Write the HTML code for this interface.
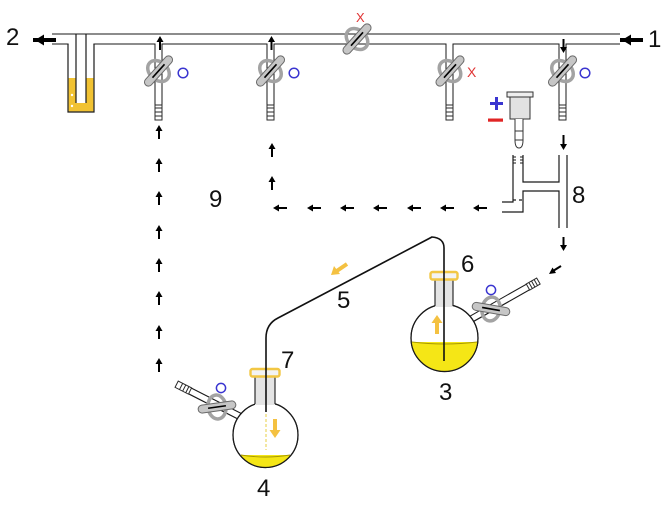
<!DOCTYPE html>
<html><head><meta charset="utf-8"><style>
html,body{margin:0;padding:0;background:#fff;}
svg{display:block;}
text{font-family:"Liberation Sans",Arial,sans-serif;fill:#111;}
</style></head><body>
<svg width="669" height="512" viewBox="0 0 669 512" xmlns="http://www.w3.org/2000/svg">
<rect width="669" height="512" fill="#fff"/>

<!-- Manifold tubes -->
<g stroke="#1a1a1a" stroke-width="11" fill="none">
  <path d="M52,39 H620"/>
</g>
<g stroke="#1a1a1a" stroke-width="8" fill="none">
  <path d="M158.5,39 V105"/><path d="M270.5,39 V105"/><path d="M449.5,39 V105"/><path d="M562.5,39 V105"/>
</g>
<g stroke="#fff" stroke-width="9" fill="none">
  <path d="M52,39 H620"/>
</g>
<g stroke="#fff" stroke-width="6" fill="none">
  <path d="M158.5,39 V106"/><path d="M270.5,39 V106"/><path d="M449.5,39 V106"/><path d="M562.5,39 V106"/>
</g>

<!-- Bubbler -->
<rect x="68.6" y="42" width="24.8" height="3.5" fill="#fff"/>
<rect x="68.6" y="78" width="24.8" height="33.4" fill="#f1c232"/>
<path d="M68,44 V112 H94 V44" stroke="#1a1a1a" stroke-width="1.2" fill="none"/>
<rect x="76" y="34.6" width="10" height="68.4" fill="#fff"/>
<path d="M76,34 V103 M86,34 V103" stroke="#1a1a1a" stroke-width="1.2" fill="none"/>
<circle cx="72" cy="95" r="1.2" fill="#fff"/><circle cx="72" cy="106" r="1.2" fill="#fff"/>

<!-- Barbs on manifold -->
<g stroke="#2a2a2a" stroke-width="1" fill="#fff">
  <g transform="translate(158.5,105)"><rect x="-3.5" y="0" width="7" height="15"/><path d="M-3.5,3 H3.5 M-3.5,7 H3.5 M-3.5,11 H3.5"/></g>
  <g transform="translate(270.5,105)"><rect x="-3.5" y="0" width="7" height="15"/><path d="M-3.5,3 H3.5 M-3.5,7 H3.5 M-3.5,11 H3.5"/></g>
  <g transform="translate(449.5,105)"><rect x="-3.5" y="0" width="7" height="15"/><path d="M-3.5,3 H3.5 M-3.5,7 H3.5 M-3.5,11 H3.5"/></g>
  <g transform="translate(562.5,105)"><rect x="-3.5" y="0" width="7" height="15"/><path d="M-3.5,3 H3.5 M-3.5,7 H3.5 M-3.5,11 H3.5"/></g>
</g>

<!-- Stopcocks on manifold -->
<g transform="translate(158.5,71) rotate(-48)">
  <ellipse rx="9" ry="12" fill="none" stroke="#a3a3a3" stroke-width="3.5"/>
  <rect x="-19" y="-4" width="38" height="8" rx="4" fill="#c6c6c6" stroke="#6a6a6a" stroke-width="1"/>
  <line x1="-9" y1="0" x2="9" y2="0" stroke="#000" stroke-width="1.6"/>
</g>
<g transform="translate(270.5,71) rotate(-48)">
  <ellipse rx="9" ry="12" fill="none" stroke="#a3a3a3" stroke-width="3.5"/>
  <rect x="-19" y="-4" width="38" height="8" rx="4" fill="#c6c6c6" stroke="#6a6a6a" stroke-width="1"/>
  <line x1="-9" y1="0" x2="9" y2="0" stroke="#000" stroke-width="1.6"/>
</g>
<g transform="translate(450,71) rotate(-48)">
  <ellipse rx="9" ry="12" fill="none" stroke="#a3a3a3" stroke-width="3.5"/>
  <rect x="-19" y="-4" width="38" height="8" rx="4" fill="#c6c6c6" stroke="#6a6a6a" stroke-width="1"/>
  <line x1="-9" y1="0" x2="9" y2="0" stroke="#000" stroke-width="1.6"/>
</g>
<g transform="translate(562.5,71) rotate(-48)">
  <ellipse rx="9" ry="12" fill="none" stroke="#a3a3a3" stroke-width="3.5"/>
  <rect x="-19" y="-4" width="38" height="8" rx="4" fill="#c6c6c6" stroke="#6a6a6a" stroke-width="1"/>
  <line x1="-9" y1="0" x2="9" y2="0" stroke="#000" stroke-width="1.6"/>
</g>
<g transform="translate(357,39) rotate(-48)">
  <ellipse rx="9" ry="12" fill="none" stroke="#a3a3a3" stroke-width="3.5"/>
  <rect x="-19" y="-4" width="38" height="8" rx="4" fill="#c6c6c6" stroke="#6a6a6a" stroke-width="1"/>
  <line x1="-9" y1="0" x2="9" y2="0" stroke="#000" stroke-width="1.6"/>
</g>

<!-- status markers -->
<g fill="none" stroke="#3a35d0" stroke-width="1.5">
  <circle cx="183" cy="73" r="4.8"/>
  <circle cx="294" cy="73" r="4.8"/>
  <circle cx="585" cy="73" r="4.8"/>
  <circle cx="491" cy="290" r="4.6"/>
  <circle cx="221" cy="388" r="4.6"/>
</g>
<text x="356" y="22" font-size="13" style="fill:#e03535">X</text>
<text x="467" y="77" font-size="14" style="fill:#e03535">X</text>

<!-- Big arrows 1 and 2 -->
<g transform="translate(35,40)"><path d="M-2,0 H21" stroke="#000" stroke-width="4"/><path d="M0,0 L9,-5.5 L9,5.5Z" fill="#000"/></g>
<g transform="translate(622,40)"><path d="M-2,0 H21" stroke="#000" stroke-width="4"/><path d="M0,0 L9,-5.5 L9,5.5Z" fill="#000"/></g>

<!-- small arrows in manifold -->
<g fill="#000" stroke="#000">
  <path d="M160,50 V41" stroke-width="2"/><path d="M160,36 L156.5,42 L163.5,42Z" stroke="none"/>
  <path d="M271.5,50 V41" stroke-width="2"/><path d="M271.5,36 L268,42 L275,42Z" stroke="none"/>
  <path d="M563.5,39 V48" stroke-width="2"/><path d="M563.5,53 L560,47 L567,47Z" stroke="none"/>
</g>

<!-- left column up arrows -->
<g fill="#000" stroke="#000">
  <path d="M159,139 V129" stroke-width="2"/><path d="M159,125 L155.5,131 L162.5,131Z" stroke="none"/>
  <path d="M159,172 V162" stroke-width="2"/><path d="M159,158 L155.5,164 L162.5,164Z" stroke="none"/>
  <path d="M159,205 V195" stroke-width="2"/><path d="M159,191 L155.5,197 L162.5,197Z" stroke="none"/>
  <path d="M159,239 V229" stroke-width="2"/><path d="M159,225 L155.5,231 L162.5,231Z" stroke="none"/>
  <path d="M159,272 V262" stroke-width="2"/><path d="M159,258 L155.5,264 L162.5,264Z" stroke="none"/>
  <path d="M159,305 V295" stroke-width="2"/><path d="M159,291 L155.5,297 L162.5,297Z" stroke="none"/>
  <path d="M159,339 V329" stroke-width="2"/><path d="M159,325 L155.5,331 L162.5,331Z" stroke="none"/>
  <path d="M159,372 V362" stroke-width="2"/><path d="M159,358 L155.5,364 L162.5,364Z" stroke="none"/>
  <!-- second column -->
  <path d="M272,157 V147" stroke-width="2"/><path d="M272,143 L268.5,149 L275.5,149Z" stroke="none"/>
  <path d="M272,190 V180" stroke-width="2"/><path d="M272,176 L268.5,182 L275.5,182Z" stroke="none"/>
  <!-- horizontal left arrows -->
  <path d="M277,208 H287" stroke-width="2"/><path d="M273,208 L279,204.5 L279,211.5Z" stroke="none"/>
  <path d="M311,208 H321" stroke-width="2"/><path d="M307,208 L313,204.5 L313,211.5Z" stroke="none"/>
  <path d="M344,208 H354" stroke-width="2"/><path d="M340,208 L346,204.5 L346,211.5Z" stroke="none"/>
  <path d="M377,208 H387" stroke-width="2"/><path d="M373,208 L379,204.5 L379,211.5Z" stroke="none"/>
  <path d="M411,208 H421" stroke-width="2"/><path d="M407,208 L413,204.5 L413,211.5Z" stroke="none"/>
  <path d="M444,208 H454" stroke-width="2"/><path d="M440,208 L446,204.5 L446,211.5Z" stroke="none"/>
  <path d="M477,208 H487" stroke-width="2"/><path d="M473,208 L479,204.5 L479,211.5Z" stroke="none"/>
  <!-- right side down arrows -->
  <path d="M563.5,135 V145" stroke-width="2"/><path d="M563.5,150 L560,144 L567,144Z" stroke="none"/>
  <path d="M563.5,237 V246" stroke-width="2"/><path d="M563.5,251 L560,245 L567,245Z" stroke="none"/>
  <!-- near flask 3 -->
  <path d="M561,266 L553,271" stroke-width="2"/><path d="M549,274 L552.5,267.5 L556,273Z" stroke="none"/>
  <!-- inside flask 3 -->
  <path d="M470,325 L461,331" stroke-width="2"/><path d="M457,334 L460.5,327.5 L464,333Z" stroke="none"/>
  <!-- inside flask 4 -->
  <path d="M252,431 L245,426" stroke-width="2"/><path d="M241.5,423 L248.5,424.5 L244.5,429.5Z" stroke="none"/>
</g>

<!-- Trap 8 -->
<g stroke="#1a1a1a" stroke-width="1.2" fill="none">
  <path d="M559,155 V182 H523 V155"/>
  <path d="M559,228 V191 H523 V212 H502"/>
  <path d="M567,155 V228"/>
  <path d="M513,155 V202 H502"/>
  <path d="M513,200 H523" stroke-dasharray="3,3"/>
  <path d="M513,157 h3 M513,160 h3 M513,163 h3 M520,157 h3 M520,160 h3 M520,163 h3" stroke-width="1"/>
</g>

<!-- Adapter with +/- -->
<rect x="507" y="92" width="26" height="5" fill="#eeeeee" stroke="#333" stroke-width="1"/>
<rect x="510" y="97" width="20" height="22" fill="#e2e2e2" stroke="#333" stroke-width="1"/>
<path d="M515,119 V140 Q515,148 519,148 Q523,148 523,140 V119" fill="#fff" stroke="#333" stroke-width="1"/>
<path d="M515,131 H523 M515,140 H523" stroke="#333" stroke-width="1"/>
<rect x="490" y="102" width="13" height="3" fill="#3a35d0"/>
<rect x="495" y="97" width="3" height="13" fill="#3a35d0"/>
<rect x="488" y="118.5" width="15" height="3.2" fill="#e02525"/>

<!-- Flask 3 -->
<path d="M468,321 L528,287" stroke="#1a1a1a" stroke-width="7.5" fill="none"/>
<path d="M466,322 L528.5,286.7" stroke="#fff" stroke-width="5.3" fill="none"/>
<g transform="translate(528,287) rotate(-29.7)" stroke="#2a2a2a" stroke-width="1" fill="#fff">
  <rect x="0" y="-3.5" width="12" height="7"/><path d="M3,-3.5 V3.5 M6,-3.5 V3.5 M9,-3.5 V3.5"/>
</g>
<defs>
  <clipPath id="c3"><circle cx="444.5" cy="338" r="33.5"/></clipPath>
  <clipPath id="c4"><circle cx="265.5" cy="435" r="32.5"/></clipPath>
</defs>
<circle cx="444.5" cy="338" r="33.5" fill="#fff" stroke="#1a1a1a" stroke-width="1.2"/>
<rect x="410" y="342" width="70" height="32" fill="#f5e616" clip-path="url(#c3)"/>
<path d="M412,342 Q444.5,346 477,342" stroke="#a89a00" stroke-width="0.9" fill="none"/>
<circle cx="444.5" cy="338" r="33.5" fill="none" stroke="#1a1a1a" stroke-width="1.2"/>
<rect x="435" y="279" width="18" height="28" fill="#e4e4e4"/>
<path d="M435,279 V306 M453,279 V306" stroke="#1a1a1a" stroke-width="1.1"/>
<rect x="430.5" y="272" width="27" height="7.5" rx="2" fill="#f3f3f3" stroke="#f2c744" stroke-width="2.4"/>

<!-- Flask 4 -->
<path d="M243,418 L190,391" stroke="#1a1a1a" stroke-width="7.5" fill="none"/>
<path d="M245,419 L189.5,390.7" stroke="#fff" stroke-width="5.3" fill="none"/>
<g transform="translate(190,391) rotate(207)" stroke="#2a2a2a" stroke-width="1" fill="#fff">
  <rect x="0" y="-3.5" width="15" height="7"/><path d="M3,-3.5 V3.5 M6.5,-3.5 V3.5 M10,-3.5 V3.5"/>
</g>
<circle cx="265.5" cy="435" r="32.5" fill="#fff" stroke="#1a1a1a" stroke-width="1.2"/>
<rect x="230" y="455" width="72" height="16" fill="#f5e616" clip-path="url(#c4)"/>
<path d="M241,455 Q265.5,459 290,455" stroke="#a89a00" stroke-width="0.9" fill="none"/>
<circle cx="265.5" cy="435" r="32.5" fill="none" stroke="#1a1a1a" stroke-width="1.2"/>
<rect x="255" y="376" width="20" height="29" fill="#e4e4e4"/>
<path d="M255,376 V404 M275,376 V404" stroke="#1a1a1a" stroke-width="1.1"/>
<rect x="250.5" y="369" width="29" height="7.5" rx="2" fill="#f3f3f3" stroke="#f2c744" stroke-width="2.4"/>
<path d="M266,414 V450" stroke="#f3e7a2" stroke-width="2" stroke-dasharray="3,2"/>

<!-- Cannula -->
<path d="M444,361 V248 Q444,238 432,237 L278,318 Q266,324 266,338 V412" stroke="#111" stroke-width="1.6" fill="none"/>

<!-- Flask stopcocks -->
<g transform="translate(491,309) rotate(10)">
  <ellipse rx="9" ry="12" fill="none" stroke="#a3a3a3" stroke-width="3.5"/>
  <rect x="-19" y="-4" width="38" height="8" rx="4" fill="#c6c6c6" stroke="#6a6a6a" stroke-width="1"/>
  <line x1="-9" y1="0" x2="9" y2="0" stroke="#000" stroke-width="1.6"/>
</g>
<g transform="translate(217,407) rotate(-8)">
  <ellipse rx="9" ry="12" fill="none" stroke="#a3a3a3" stroke-width="3.5"/>
  <rect x="-19" y="-4" width="38" height="8" rx="4" fill="#c6c6c6" stroke="#6a6a6a" stroke-width="1"/>
  <line x1="-9" y1="0" x2="9" y2="0" stroke="#000" stroke-width="1.6"/>
</g>

<!-- Orange arrows -->
<g fill="#f4c141" stroke="#f4c141">
  <path d="M437,334 V321" stroke-width="4"/><path d="M437,315 L431.5,323 L442.5,323Z" stroke="none"/>
  <path d="M275,419 V432" stroke-width="4"/><path d="M275,438 L269.5,430 L280.5,430Z" stroke="none"/>
  <path d="M347,264 L336,271.5" stroke-width="4"/><path d="M331,275 L334,266 L340,274Z" stroke="none"/>
</g>

<!-- Labels -->
<text x="6" y="45" font-size="24">2</text>
<text x="648" y="47" font-size="24">1</text>
<text x="209" y="207" font-size="24">9</text>
<text x="572" y="203" font-size="24">8</text>
<text x="337" y="308" font-size="24">5</text>
<text x="461" y="272" font-size="24">6</text>
<text x="439" y="400" font-size="24">3</text>
<text x="257" y="496" font-size="24">4</text>
<text x="281" y="368" font-size="24">7</text>
</svg>
</body></html>
